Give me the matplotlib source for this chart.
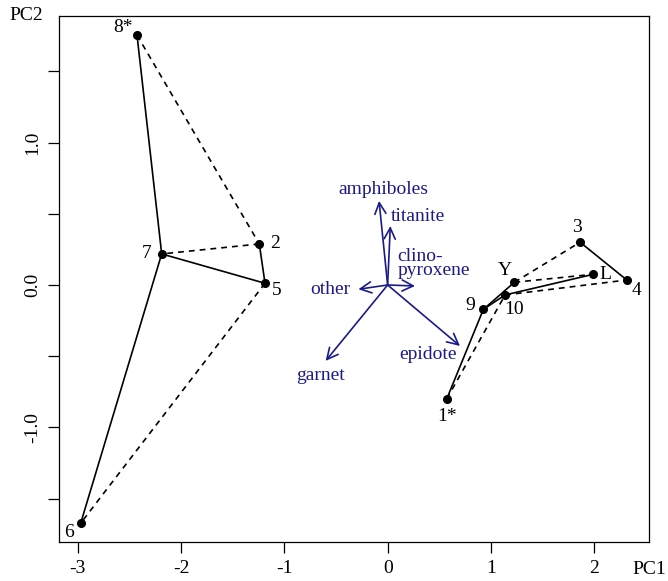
import matplotlib
matplotlib.use("Agg")
import matplotlib.pyplot as plt

plt.rcParams['font.family'] = ['Liberation Serif', 'DejaVu Serif']
plt.rcParams['font.size'] = 14
plt.rcParams['axes.unicode_minus'] = False

# sample scores on PC1 / PC2
names = ['1*', '2', '3', '4', '5', '6', '7', '8*', '9', '10', 'Y', 'L']
pc1 = [0.572, -1.242, 1.863, 2.315, -1.187, -2.971, -2.187, -2.426, 0.927, 1.137, 1.227, 1.991]
pc2 = [-0.800, 0.288, 0.300, 0.035, 0.012, -1.672, 0.218, 1.754, -0.171, -0.070, 0.019, 0.075]

# connections between samples
solid_edges = [('8*', '7'), ('7', '6'), ('7', '5'), ('5', '2'),
               ('1*', '9'), ('9', 'Y'), ('9', '10'), ('10', 'L'), ('3', '4')]
dashed_edges = [('8*', '2'), ('2', '7'), ('5', '6'),
                ('1*', '10'), ('10', '4'), ('Y', '3'), ('Y', 'L')]

# variable loadings
variables = ['amphiboles', 'titanite', 'clino-\npyroxene', 'other', 'garnet', 'epidote']
load1 = [-0.083, 0.026, 0.265, -0.283, -0.600, 0.700]
load2 = [0.590, 0.414, -0.007, -0.030, -0.533, -0.428]

# label offsets (data units) and alignment
pt_off = {'1*': (0.003, -0.126), '2': (0.152, 0.005), '3': (-0.026, 0.105),
          '4': (0.090, -0.077), '5': (0.113, -0.052), '6': (-0.110, -0.066),
          '7': (-0.145, 0.0), '8*': (-0.140, 0.051), '9': (-0.123, 0.024),
          '10': (0.090, -0.105), 'Y': (-0.090, 0.081), 'L': (0.114, 0.0)}
var_pos = [(-0.040, 0.667, 'center'), (0.291, 0.479, 'center'),
           (0.096, 0.152, 'left'), (-0.357, -0.035, 'right'),
           (-0.648, -0.632, 'center'), (0.388, -0.491, 'center')]

vcol = '#1a1a8a'

fig = plt.figure(figsize=(6.68, 5.81), dpi=100)
ax = fig.add_axes([59/668, (581-542.3)/581, 590/668, 526.6/581])

xy = dict(zip(names, zip(pc1, pc2)))
for a, b in solid_edges:
    ax.plot([xy[a][0], xy[b][0]], [xy[a][1], xy[b][1]], color='black', lw=1.2)
for a, b in dashed_edges:
    ax.plot([xy[a][0], xy[b][0]], [xy[a][1], xy[b][1]], color='black', lw=1.2,
            dashes=(3.5, 3))
ax.plot(pc1, pc2, 'o', color='black', ms=5.5, zorder=3)
for n in names:
    dx, dy = pt_off[n]
    ax.text(xy[n][0] + dx, xy[n][1] + dy, n, ha='center', va='center')

for v, l1, l2, (tx, ty, ha) in zip(variables, load1, load2, var_pos):
    ax.annotate('', xy=(l1, l2), xytext=(0, 0),
                arrowprops=dict(arrowstyle='->,head_length=0.8,head_width=0.4',
                                color=vcol, lw=1.2, shrinkA=0, shrinkB=0,
                                mutation_scale=10))
    ax.text(tx, ty, v, color=vcol, ha=ha, va='center', linespacing=0.75)

ax.set_xlim(-3.181, 2.53)
ax.set_ylim(-1.806, 1.890)
ax.set_xticks([-3, -2, -1, 0, 1, 2])
ax.set_yticks([-1.5, -1.0, -0.5, 0.0, 0.5, 1.0, 1.5])
ax.set_yticklabels(['', '-1.0', '', '0.0', '', '1.0', ''], rotation=90, va='center')
ax.tick_params(length=7.7, width=0.9, pad=5)
for s in ax.spines.values():
    s.set_linewidth(0.9)

fig.text(9/668, 1 - 15/581, 'PC2', ha='left', va='center')
fig.text(632/668, 1 - 569/581, 'PC1', ha='left', va='center')

fig.savefig('out.png', dpi=100)
